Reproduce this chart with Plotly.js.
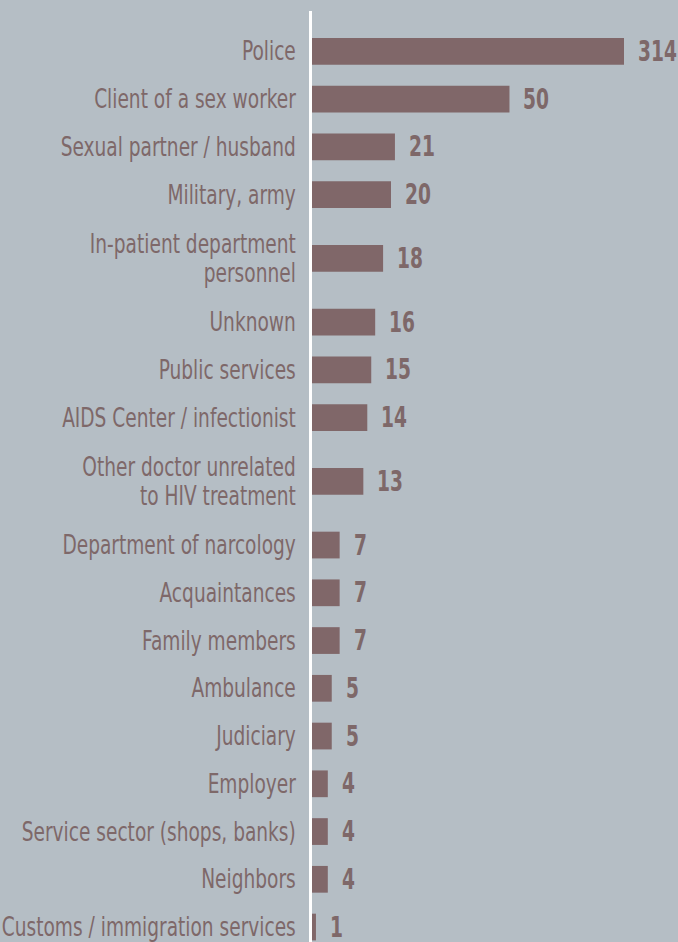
<!DOCTYPE html>
<html>
<head>
<meta charset="utf-8">
<script src="https://cdn.plot.ly/plotly-3.0.1.min.js"></script>
<style>
  html, body { margin: 0; padding: 0; background: #b5bec5; }
  #chart { width: 678px; height: 942px; }
</style>
</head>
<body>
<div id="chart"></div>
<script>
// ---- data ----
var categories = [
  "Police",
  "Client of a sex worker",
  "Sexual partner / husband",
  "Military, army",
  "In-patient department<br>personnel",
  "Unknown",
  "Public services",
  "AIDS Center / infectionist",
  "Other doctor unrelated<br>to HIV treatment",
  "Department of narcology",
  "Acquaintances",
  "Family members",
  "Ambulance",
  "Judiciary",
  "Employer",
  "Service sector (shops, banks)",
  "Neighbors",
  "Customs / immigration services"
];
var counts = [314, 50, 21, 20, 18, 16, 15, 14, 13, 7, 7, 7, 5, 5, 4, 4, 4, 1];

// ---- layout helpers ----
var XMAX = 79;            // visible axis maximum (largest bar is cut off)
var ROW_EXTRA = 0.67;     // extra height for a two-line label row
var BG = "#b5bec5";
var BAR = "#806769";
var TXT = "#7e6869";
var FONT = "'DejaVu Sans Condensed', 'DejaVu Sans', sans-serif";
var TICK_SIZE = 26;
var TICK_SCALE = 0.795;   // horizontal squeeze to mimic a condensed face
var VAL_SCALE = 0.74;
var LINE_EM = 1.14;

// row centres from label line counts
var heights = categories.map(function (c) { return c.indexOf("<br>") >= 0 ? 1 + ROW_EXTRA : 1; });
var centers = [];
var pos = 0;
for (var i = 0; i < categories.length; i++) {
  if (i > 0) pos += (heights[i - 1] + heights[i]) / 2;
  centers.push(pos);
}
var topEdge = -0.844;
var bottomEdge = topEdge + 19.497;

var trace = {
  type: "bar",
  orientation: "h",
  x: counts,
  y: centers,
  width: 0.56,
  marker: { color: BAR, line: { width: 0 } },
  hoverinfo: "none"
};

var annotations = counts.map(function (v, i) {
  return {
    x: Math.min(v, XMAX),
    y: centers[i],
    xref: "x",
    yref: "y",
    text: "<b>" + v + "</b>",
    showarrow: false,
    xanchor: "left",
    yanchor: "middle",
    xshift: 12,
    font: { family: FONT, size: 28, color: TXT }
  };
});

var layout = {
  width: 678,
  height: 942,
  paper_bgcolor: BG,
  plot_bgcolor: BG,
  showlegend: false,
  margin: { l: 312, r: 54, t: 11, b: 0, pad: 0 },
  xaxis: {
    range: [0, XMAX],
    visible: false,
    showgrid: false,
    zeroline: false,
    fixedrange: true
  },
  yaxis: {
    range: [bottomEdge, topEdge],
    tickvals: centers,
    ticktext: categories,
    showgrid: false,
    zeroline: false,
    showline: true,
    linecolor: "#ffffff",
    linewidth: 3,
    ticks: "",
    ticklabelstandoff: 8,
    ticklabeloverflow: "allow",
    tickfont: { family: FONT, size: TICK_SIZE, color: TXT },
    fixedrange: true
  },
  annotations: annotations
};

function squeeze(el, sx, anchor) {
  var bb = el.getBBox();
  var ax = anchor === "right" ? bb.x + bb.width : bb.x;
  var t = el.getAttribute("transform") || "";
  el.setAttribute("transform", t + " translate(" + ax + ",0) scale(" + sx + ",1) translate(" + (-ax) + ",0)");
}

Plotly.newPlot("chart", [trace], layout, { displayModeBar: false, staticPlot: true }).then(function (gd) {
  gd.querySelectorAll(".ytick text").forEach(function (el) {
    var lines = el.querySelectorAll("tspan.line");
    if (lines.length > 1) {
      for (var k = 1; k < lines.length; k++) lines[k].setAttribute("dy", LINE_EM + "em");
      var shift = (1.3 - LINE_EM) * TICK_SIZE * (lines.length - 1) / 2;
      var t0 = el.getAttribute("transform") || "";
      el.setAttribute("transform", t0 + " translate(0," + shift + ")");
    }
    squeeze(el, TICK_SCALE, "right");
  });
  gd.querySelectorAll(".annotation-text-g text").forEach(function (el) {
    squeeze(el, VAL_SCALE, "left");
  });
});
</script>
</body>
</html>
